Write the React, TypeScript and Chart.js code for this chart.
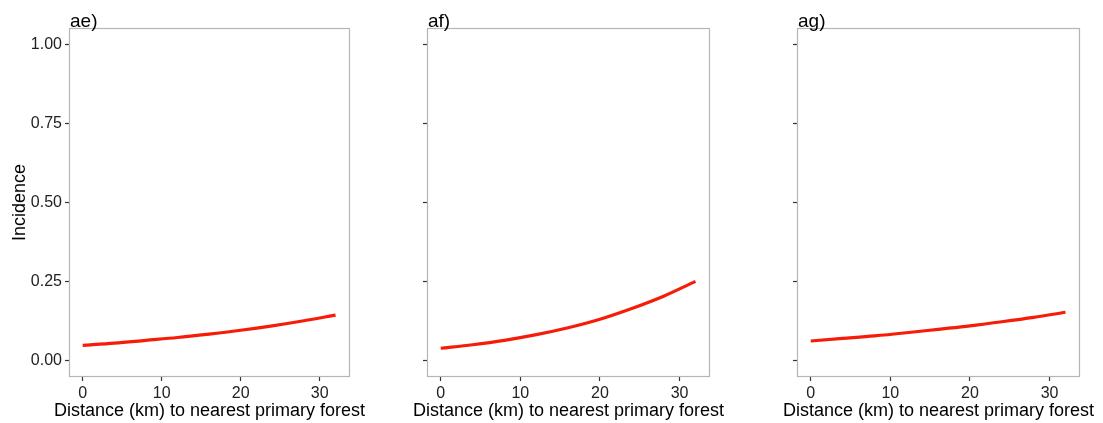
import React, { useEffect, useRef } from "react";
import { Chart, registerables } from "chart.js";

Chart.register(...registerables);

const distanceKm = [0, 4, 8, 12, 16, 20, 24, 28, 32];
const incidenceAE = [0.047, 0.054, 0.063, 0.072, 0.083, 0.095, 0.109, 0.125, 0.143];
const incidenceAF = [0.038, 0.049, 0.063, 0.081, 0.103, 0.13, 0.164, 0.203, 0.25];
const incidenceAG = [0.061, 0.069, 0.077, 0.087, 0.098, 0.109, 0.122, 0.136, 0.152];
const xTicks = [0, 10, 20, 30];
const yTicks = [0, 0.25, 0.5, 0.75, 1];
const panelTitles = ["ae)", "af)", "ag)"];
const xAxisTitle = "Distance (km) to nearest primary forest";
const yAxisTitle = "Incidence";

const FONT = "'Liberation Sans', Arial, Helvetica, sans-serif";

type PanelProps = {
  title: string;
  values: number[];
  left: number;
  width: number;
  yAxisWidth: number;
  rightPad: number;
  showYLabels: boolean;
};

function Panel({ title, values, left, width, yAxisWidth, rightPad, showYLabels }: PanelProps) {
  const ref = useRef<HTMLCanvasElement | null>(null);
  useEffect(() => {
    if (!ref.current) return;
    const boxPlugin = {
      id: "panelBox",
      beforeDatasetsDraw(chart: any) {
        const { ctx, chartArea } = chart;
        ctx.save();
        ctx.strokeStyle = "#b5b5b5";
        ctx.lineWidth = 1.2;
        ctx.strokeRect(chartArea.left - 0.5, chartArea.top - 0.5, chartArea.right - chartArea.left + 1, chartArea.bottom - chartArea.top + 1);
        ctx.restore();
      },
      afterDraw(chart: any) {
        const { ctx, chartArea } = chart;
        ctx.save();
        ctx.fillStyle = "#000";
        ctx.font = `19px ${FONT}`;
        ctx.textAlign = "left";
        ctx.textBaseline = "alphabetic";
        ctx.fillText(title, chartArea.left, 26.5);
        ctx.font = `18px ${FONT}`;
        ctx.textAlign = "center";
        ctx.fillText(xAxisTitle, (chartArea.left + chartArea.right) / 2, 415.5);
        ctx.restore();
      },
    };
    const chart = new Chart(ref.current, {
      type: "line",
      data: {
        datasets: [
          {
            data: distanceKm.map((x, i) => ({ x, y: values[i] })),
            borderColor: "rgb(246,28,8)",
            borderWidth: 3.2,
            pointRadius: 0,
            cubicInterpolationMode: "monotone",
            fill: false,
          },
        ],
      },
      options: {
        animation: false,
        responsive: false,
        maintainAspectRatio: false,
        events: [],
        layout: { padding: { top: 29, right: rightPad, left: 0, bottom: 0 } },
        plugins: { legend: { display: false }, tooltip: { enabled: false }, title: { display: false } },
        scales: {
          x: {
            type: "linear",
            min: -1.6,
            max: 33.7,
            afterBuildTicks: (s: any) => {
              s.ticks = xTicks.map((v) => ({ value: v }));
            },
            afterFit: (s: any) => {
              s.height = 47;
            },
            grid: { drawOnChartArea: false, drawTicks: true, tickLength: 5, tickColor: "#333", tickWidth: 1.2 },
            border: { display: false },
            ticks: { color: "#222", font: { family: FONT, size: 16 }, padding: 3, maxRotation: 0, autoSkip: false, callback: (v: any) => String(v) },
            title: { display: false },
          },
          y: {
            type: "linear",
            min: -0.05,
            max: 1.05,
            afterBuildTicks: (s: any) => {
              s.ticks = yTicks.map((v) => ({ value: v }));
            },
            afterFit: (s: any) => {
              s.width = yAxisWidth;
            },
            grid: { drawOnChartArea: false, drawTicks: true, tickLength: 5, tickColor: "#333", tickWidth: 1.2 },
            border: { display: false },
            ticks: {
              color: "#222",
              font: { family: FONT, size: 16 },
              padding: 3,
              autoSkip: false,
              callback: (v: any) => (showYLabels ? Number(v).toFixed(2) : ""),
            },
            title: { display: showYLabels, text: yAxisTitle, color: "#000", font: { family: FONT, size: 18 }, padding: { top: 9, bottom: 0 } },
          },
        },
      },
      plugins: [boxPlugin],
    });
    return () => chart.destroy();
  }, []);
  return (
    <canvas
      ref={ref}
      width={width}
      height={423}
      style={{ position: "absolute", left, top: 0, width, height: 423 }}
    />
  );
}

export default function App() {
  return (
    <div style={{ position: "fixed", left: 0, top: 0, width: 1103, height: 423, background: "#fff", overflow: "hidden" }}>
      <Panel title={panelTitles[0]} values={incidenceAE} left={0} width={370} yAxisWidth={70} rightPad={21} showYLabels={true} />
      <Panel title={panelTitles[1]} values={incidenceAF} left={370} width={370} yAxisWidth={58} rightPad={31} showYLabels={false} />
      <Panel title={panelTitles[2]} values={incidenceAG} left={740} width={363} yAxisWidth={58} rightPad={24} showYLabels={false} />
    </div>
  );
}
